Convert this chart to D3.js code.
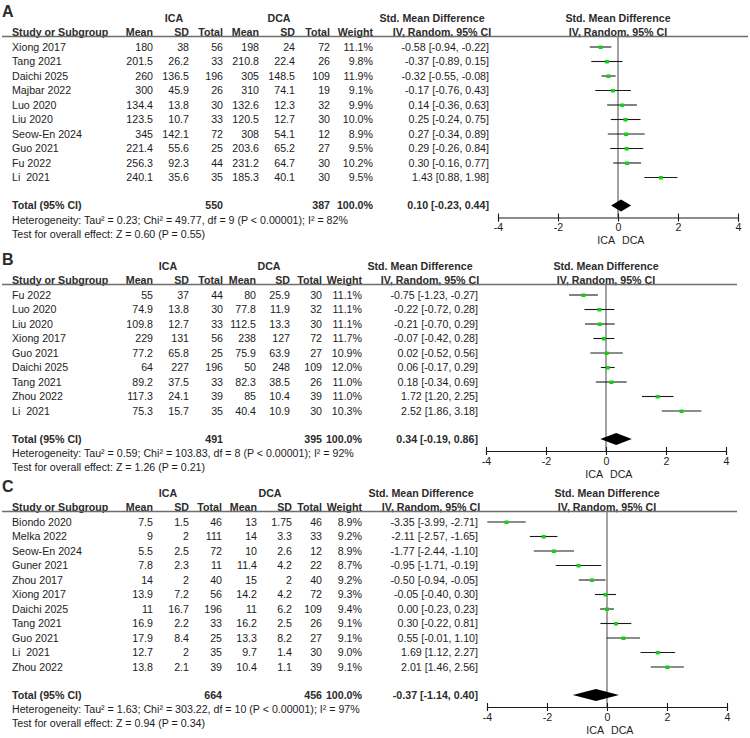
<!DOCTYPE html>
<html lang="en">
<head>
<meta charset="UTF-8">
<title>ICA vs DCA forest plots</title>
<script src="https://d3js.org/d3.v7.min.js"></script>
<style>
  body { margin: 0; background: #fff; }
  svg { display: block; font-family: "Liberation Sans", Arial, sans-serif; }
  text { white-space: pre; }
</style>
</head>
<body>
<svg width="750" height="738"></svg>
<script>
// ---------- panel A ----------
const studiesA = ['Xiong 2017', 'Tang 2021', 'Daichi 2025', 'Majbar 2022', 'Luo 2020', 'Liu 2020', 'Seow-En 2024', 'Guo 2021', 'Fu 2022', 'Li  2021'];
const icaMeanA = [180, 201.5, 260, 300, 134.4, 123.5, 345, 221.4, 256.3, 240.1];
const icaSdA = [38, 26.2, 136.5, 45.9, 13.8, 10.7, 142.1, 55.6, 92.3, 35.6];
const icaNA = [56, 33, 196, 26, 30, 33, 72, 25, 44, 35];
const dcaMeanA = [198, 210.8, 305, 310, 132.6, 120.5, 308, 203.6, 231.2, 185.3];
const dcaSdA = [24, 22.4, 148.5, 74.1, 12.3, 12.7, 54.1, 65.2, 64.7, 40.1];
const dcaNA = [72, 26, 109, 19, 32, 30, 12, 27, 30, 30];
const weightA = [11.1, 9.8, 11.9, 9.1, 9.9, 10.0, 8.9, 9.5, 10.2, 9.5];
const smdA = [-0.58, -0.37, -0.32, -0.17, 0.14, 0.25, 0.27, 0.29, 0.30, 1.43];
const lowA = [-0.94, -0.89, -0.55, -0.76, -0.36, -0.24, -0.34, -0.26, -0.16, 0.88];
const highA = [-0.22, 0.15, -0.08, 0.43, 0.63, 0.75, 0.89, 0.84, 0.77, 1.98];

// ---------- panel B ----------
const studiesB = ['Fu 2022', 'Luo 2020', 'Liu 2020', 'Xiong 2017', 'Guo 2021', 'Daichi 2025', 'Tang 2021', 'Zhou 2022', 'Li  2021'];
const icaMeanB = [55, 74.9, 109.8, 229, 77.2, 64, 89.2, 117.3, 75.3];
const icaSdB = [37, 13.8, 12.7, 131, 65.8, 227, 37.5, 24.1, 15.7];
const icaNB = [44, 30, 33, 56, 25, 196, 33, 39, 35];
const dcaMeanB = [80, 77.8, 112.5, 238, 75.9, 50, 82.3, 85, 40.4];
const dcaSdB = [25.9, 11.9, 13.3, 127, 63.9, 248, 38.5, 10.4, 10.9];
const dcaNB = [30, 32, 30, 72, 27, 109, 26, 39, 30];
const weightB = [11.1, 11.1, 11.1, 11.7, 10.9, 12.0, 11.0, 11.0, 10.3];
const smdB = [-0.75, -0.22, -0.21, -0.07, 0.02, 0.06, 0.18, 1.72, 2.52];
const lowB = [-1.23, -0.72, -0.70, -0.42, -0.52, -0.17, -0.34, 1.20, 1.86];
const highB = [-0.27, 0.28, 0.29, 0.28, 0.56, 0.29, 0.69, 2.25, 3.18];

// ---------- panel C ----------
const studiesC = ['Biondo 2020', 'Melka 2022', 'Seow-En 2024', 'Guner 2021', 'Zhou 2017', 'Xiong 2017', 'Daichi 2025', 'Tang 2021', 'Guo 2021', 'Li  2021', 'Zhou 2022'];
const icaMeanC = [7.5, 9, 5.5, 7.8, 14, 13.9, 11, 16.9, 17.9, 12.7, 13.8];
const icaSdC = [1.5, 2, 2.5, 2.3, 2, 7.2, 16.7, 2.2, 8.4, 2, 2.1];
const icaNC = [46, 111, 72, 11, 40, 56, 196, 33, 25, 35, 39];
const dcaMeanC = [13, 14, 10, 11.4, 15, 14.2, 11, 16.2, 13.3, 9.7, 10.4];
const dcaSdC = [1.75, 3.3, 2.6, 4.2, 2, 4.2, 6.2, 2.5, 8.2, 1.4, 1.1];
const dcaNC = [46, 33, 12, 22, 40, 72, 109, 26, 27, 30, 39];
const weightC = [8.9, 9.2, 8.9, 8.7, 9.2, 9.3, 9.4, 9.1, 9.1, 9.0, 9.1];
const smdC = [-3.35, -2.11, -1.77, -0.95, -0.50, -0.05, 0.00, 0.30, 0.55, 1.69, 2.01];
const lowC = [-3.99, -2.57, -2.44, -1.71, -0.94, -0.40, -0.23, -0.22, -0.01, 1.12, 1.46];
const highC = [-2.71, -1.65, -1.10, -0.19, -0.05, 0.30, 0.23, 0.81, 1.10, 2.27, 2.56];

// ---------- pooled results (A, B, C) ----------
const panelLabels = ['A', 'B', 'C'];
const totalIcaN = [550, 491, 664];
const totalDcaN = [387, 395, 456];
const pooledSmd = [0.10, 0.34, -0.37];
const pooledLow = [-0.23, -0.19, -1.14];
const pooledHigh = [0.44, 0.86, 0.40];
const tau2 = [0.23, 0.59, 1.63];
const chi2 = [49.77, 103.83, 303.22];
const dfs = [9, 8, 10];
const i2 = [82, 92, 97];
const zVal = [0.60, 1.26, 0.94];
const pZ = [0.55, 0.21, 0.34];

const axisTicks = [-4, -2, 0, 2, 4];

const panels = [
    { studies: studiesA, icaMean: icaMeanA, icaSd: icaSdA, icaN: icaNA, dcaMean: dcaMeanA, dcaSd: dcaSdA, dcaN: dcaNA, weight: weightA, smd: smdA, low: lowA, high: highA },
    { studies: studiesB, icaMean: icaMeanB, icaSd: icaSdB, icaN: icaNB, dcaMean: dcaMeanB, dcaSd: dcaSdB, dcaN: dcaNB, weight: weightB, smd: smdB, low: lowB, high: highB },
    { studies: studiesC, icaMean: icaMeanC, icaSd: icaSdC, icaN: icaNC, dcaMean: dcaMeanC, dcaSd: dcaSdC, dcaN: dcaNC, weight: weightC, smd: smdC, low: lowC, high: highC }
];

// layout per panel (panel A was exported a little wider)
const layouts = [
    { y0: 12,  cols: [153, 189, 223, 259, 295, 330, 373], ica: 174, dca: 279, smdRight: 489, stdC: 432, zero: 618, lineEnd: 748 },
    { y0: 260, cols: [153, 189, 223, 256, 290, 322, 362], ica: 168, dca: 269, smdRight: 478, stdC: 420, zero: 606, lineEnd: 737 },
    { y0: 487, cols: [153, 189, 222, 257, 292, 322, 362], ica: 168, dca: 270, smdRight: 478, stdC: 421, zero: 607, lineEnd: 737 }
];

const ROW = 14.5;
const FS = 10.65;
const BL = 3.8; // text centre -> baseline

const svg = d3.select('svg');
svg.append('rect').attr('width', 750).attr('height', 738).attr('fill', '#fff');

panels.forEach((p, k) => {
    const lay = layouts[k];
    const g = svg.append('g');
    const y0 = lay.y0;
    const rowY = i => y0 + 35 + i * ROW;
    const totY = rowY(p.studies.length - 1) + 28;
    const axisY = totY + 12;
    const lineY = y0 + 24.5;

    const x = d3.scaleLinear().domain([-4, 4]).range([lay.zero - 120, lay.zero + 120]);

    const txt = (s, xx, yy, anchor, bold, size) => g.append('text')
        .attr('x', xx)
        .attr('y', yy + BL)
        .attr('text-anchor', anchor || 'start')
        .attr('font-size', size || FS)
        .attr('font-weight', bold ? 'bold' : 'normal')
        .attr('fill', bold ? '#2b2b2b' : '#1c1c1c')
        .text(s);

    // panel letter
    txt(panelLabels[k], 2, y0 + 1, 'start', true, 16);

    // header row 1
    txt('ICA', lay.ica, y0 + 6, 'middle', true);
    txt('DCA', lay.dca, y0 + 6, 'middle', true);
    txt('Std. Mean Difference', lay.stdC, y0 + 6, 'middle', true);
    txt('Std. Mean Difference', lay.zero, y0 + 6, 'middle', true);

    // header row 2
    const h2 = y0 + 20;
    txt('Study or Subgroup', 12, h2, 'start', true);
    ['Mean', 'SD', 'Total', 'Mean', 'SD', 'Total', 'Weight'].forEach((h, j) => txt(h, lay.cols[j], h2, 'end', true));
    txt('IV, Random, 95% CI', lay.stdC + 10, h2, 'middle', true);
    txt('IV, Random, 95% CI', lay.zero, h2, 'middle', true);

    g.append('line')
        .attr('x1', 2).attr('x2', lay.lineEnd)
        .attr('y1', lineY).attr('y2', lineY)
        .attr('stroke', '#6e6e6e').attr('stroke-width', 1.4);

    // study rows
    p.studies.forEach((s, i) => {
        const y = rowY(i);
        txt(s, 12, y);
        const vals = [p.icaMean[i], p.icaSd[i], p.icaN[i], p.dcaMean[i], p.dcaSd[i], p.dcaN[i], p.weight[i].toFixed(1) + '%'];
        vals.forEach((v, j) => txt(String(v), lay.cols[j], y, 'end'));
        txt(`${p.smd[i].toFixed(2)} [${p.low[i].toFixed(2)}, ${p.high[i].toFixed(2)}]`, lay.smdRight, y, 'end');
    });

    // totals and footnotes
    txt('Total (95% CI)', 12, totY, 'start', true);
    txt(String(totalIcaN[k]), lay.cols[2], totY, 'end', true);
    txt(String(totalDcaN[k]), lay.cols[5], totY, 'end', true);
    txt('100.0%', lay.cols[6], totY, 'end', true);
    txt(`${pooledSmd[k].toFixed(2)} [${pooledLow[k].toFixed(2)}, ${pooledHigh[k].toFixed(2)}]`, lay.smdRight, totY, 'end', true);
    txt(`Heterogeneity: Tau\u00b2 = ${tau2[k].toFixed(2)}; Chi\u00b2 = ${chi2[k].toFixed(2)}, df = ${dfs[k]} (P < 0.00001); I\u00b2 = ${i2[k]}%`, 12, totY + 14.3);
    txt(`Test for overall effect: Z = ${zVal[k].toFixed(2)} (P = ${pZ[k].toFixed(2)})`, 12, totY + 28.5);

    // line of no effect
    g.append('line')
        .attr('x1', x(0)).attr('x2', x(0))
        .attr('y1', lineY).attr('y2', axisY)
        .attr('stroke', '#858585').attr('stroke-width', 1.5);

    // confidence intervals and point estimates
    g.selectAll('line.ci')
        .data(p.smd)
        .enter().append('line')
        .attr('class', 'ci')
        .attr('x1', (d, i) => x(p.low[i]))
        .attr('x2', (d, i) => x(p.high[i]))
        .attr('y1', (d, i) => rowY(i))
        .attr('y2', (d, i) => rowY(i))
        .attr('stroke', '#1a1a1a').attr('stroke-width', 1.1);

    g.selectAll('rect.pt')
        .data(p.smd)
        .enter().append('rect')
        .attr('class', 'pt')
        .attr('x', d => x(d) - 2)
        .attr('y', (d, i) => rowY(i) - 1.5)
        .attr('width', 4)
        .attr('height', 3.5)
        .attr('fill', '#14d014');

    // pooled diamond
    g.append('path')
        .attr('d', `M${x(pooledLow[k])},${totY} L${x(pooledSmd[k])},${totY - 6} L${x(pooledHigh[k])},${totY} L${x(pooledSmd[k])},${totY + 6} Z`)
        .attr('fill', '#000');

    // axis
    const axis = g.append('g')
        .attr('transform', `translate(0,${axisY})`)
        .call(d3.axisBottom(x).tickValues(axisTicks).tickSizeOuter(0).tickSize(4).tickFormat(d => String(d)));
    axis.select('.domain').attr('stroke', '#1a1a1a').attr('stroke-width', 1.1);
    axis.selectAll('.tick line').attr('y1', -4).attr('y2', 4).attr('stroke', '#1a1a1a').attr('stroke-width', 1.1);
    axis.selectAll('.tick text')
        .attr('y', 6)
        .attr('font-size', FS)
        .attr('font-family', '"Liberation Sans", Arial, sans-serif')
        .attr('fill', '#1c1c1c');

    txt('ICA', x(0) - 3, axisY + 23, 'end');
    txt('DCA', x(0) + 4, axisY + 23, 'start');
});
</script>
</body>
</html>
